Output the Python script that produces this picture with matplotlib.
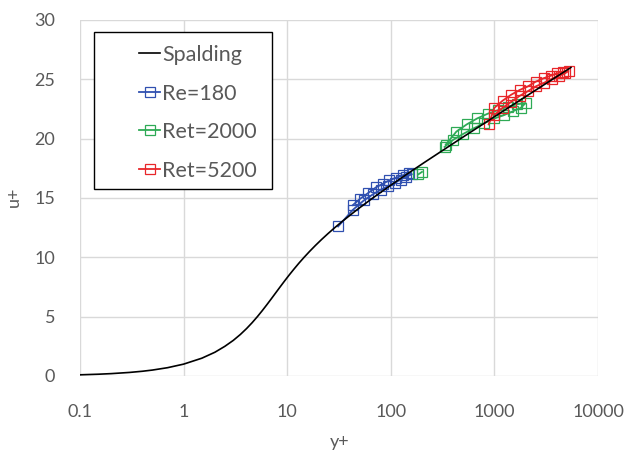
import numpy as np
import matplotlib
matplotlib.use("Agg")
import matplotlib.pyplot as plt
from matplotlib.patches import Rectangle

plt.rcParams["font.family"] = ["Lato", "DejaVu Sans"]

# Spalding law of the wall
spalding_yp = [0.1, 0.15, 0.2, 0.3, 0.4, 0.5, 0.7, 1.0, 1.5, 2.003, 2.5, 3.016,
               3.531, 4.056, 4.595, 5.152, 5.735, 6.352, 7.015, 7.735, 8.53,
               9.42, 10.43, 11.60, 12.95, 14.55, 16.45, 18.72, 21.45, 24.76,
               28.78, 33.68, 46.99, 66.98, 97.1, 142.5, 211.2, 471.3, 1063.7,
               2411, 4648, 5478]
spalding_up = [0.1, 0.15, 0.2, 0.3, 0.4, 0.5, 0.7, 1.0, 1.5, 2.0, 2.5, 3.0,
               3.5, 4.0, 4.5, 5.0, 5.5, 6.0, 6.5, 7.0, 7.5,
               8.0, 8.5, 9.0, 9.5, 10.0, 10.5, 11.0, 11.5, 12.0,
               12.5, 13.0, 14.0, 15.0, 16.0, 17.0, 18.0, 20.0, 22.0,
               24.0, 25.6, 26.0]

# Re=180 (out along lower branch, back along upper branch)
re180_yp = [31, 43, 55, 67, 80, 95, 110, 125, 140, 160,
            150, 130, 112, 97, 84, 72, 60, 50, 43]
re180_up = [12.6, 14.0, 14.8, 15.3, 15.7, 16.0, 16.3, 16.55, 16.8, 17.0,
            17.1, 16.9, 16.7, 16.5, 16.2, 15.9, 15.4, 14.9, 14.4]

# Ret=2000
ret2000_yp = [185, 200, np.nan,
              339, 430, 540, 680, 860, 1080, 1350, 1650, 2000,
              1800, 1500, 1250, 1000, 800, 640, 500, 400, 330]
ret2000_up = [17.0, 17.2, np.nan,
              19.5, 20.6, 21.2, 21.7, 22.1, 22.4, 22.7, 22.9, 23.0,
              22.6, 22.3, 22.0, 21.7, 21.3, 20.9, 20.4, 19.9, 19.3]

# Ret=5200
ret5200_yp = [880, 1000, 1200, 1450, 1750, 2100, 2500, 3000, 3500, 4000, 4600, 5200,
              4800, 4200, 3600, 3000, 2500, 2100, 1750, 1450, 1200, 1000]
ret5200_up = [21.2, 22.6, 23.2, 23.7, 24.1, 24.4, 24.8, 25.1, 25.3, 25.5, 25.65, 25.7,
              25.5, 25.3, 25.05, 24.7, 24.4, 24.0, 23.6, 23.1, 22.6, 22.0]

x_ticks = [0.1, 1, 10, 100, 1000, 10000]
x_tick_labels = ["0.1", "1", "10", "100", "1000", "10000"]
y_ticks = [0, 5, 10, 15, 20, 25, 30]

W, H = 629, 457
fig = plt.figure(figsize=(W / 100, H / 100), dpi=100)
ax = fig.add_axes([80 / W, 1 - 376 / H, 518 / W, 356 / H])

text_grey = "#595959"
grid_grey = "#d9d9d9"

ax.plot(spalding_yp, spalding_up, color="black", lw=1.2, label="Spalding", zorder=4)

mk = dict(marker="s", markersize=7.8, markerfacecolor="none", markeredgewidth=0.9, lw=1.3)
ax.plot(re180_yp, re180_up, color="#3050b0", label="Re=180", zorder=3, **mk)
ax.plot(ret2000_yp, ret2000_up, color="#2eaa55", label="Ret=2000", zorder=3, **mk)
ax.plot(ret5200_yp, ret5200_up, color="#e8262a", label="Ret=5200", zorder=3, **mk)

ax.set_xscale("log")
ax.set_xlim(0.1, 10000)
ax.set_ylim(0, 30)
ax.set_xticks(x_ticks)
ax.set_xticklabels(x_tick_labels)
ax.set_yticks(y_ticks)
ax.xaxis.set_minor_locator(matplotlib.ticker.NullLocator())
ax.tick_params(length=0, labelsize=13, labelcolor=text_grey)
ax.tick_params(axis="y", pad=18)
ax.tick_params(axis="x", pad=20)
ax.grid(True, color=grid_grey, lw=1.0)
ax.set_axisbelow(True)
for s in ax.spines.values():
    s.set_visible(False)

ax.set_xlabel("y+", fontsize=13, color=text_grey)
ax.set_ylabel("u+", fontsize=13, color=text_grey)
ax.xaxis.set_label_coords((340 - 80) / 518, -(434 - 376) / 356)
ax.yaxis.set_label_coords(-(80 - 22) / 518, (376 - 197) / 356)

# legend box drawn separately (content sits right of centre)
fig.patches.append(Rectangle((94 / W, 1 - 189 / H), 178 / W, 157 / H,
                             transform=fig.transFigure, fill=True, fc="white",
                             ec="black", lw=1.0, zorder=5))
leg = fig.legend(loc="upper left", bbox_to_anchor=(139 / W, 1 - 45 / H),
                 frameon=False, fontsize=15.5, handlelength=0.98,
                 handletextpad=0.1, labelspacing=0.86, borderpad=0,
                 borderaxespad=0)
for t in leg.get_texts():
    t.set_color(text_grey)
leg.set_zorder(6)

fig.savefig("out.png", dpi=100)
